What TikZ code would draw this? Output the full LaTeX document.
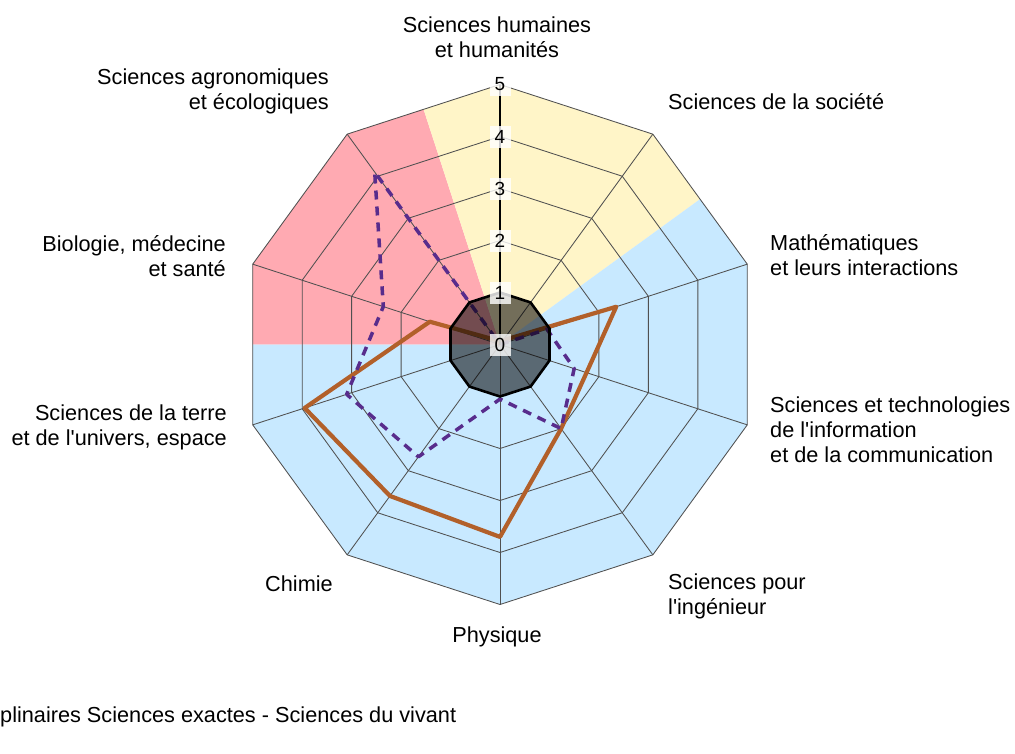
\documentclass[tikz,border=0pt]{standalone}
\usepackage{fontspec}
\setmainfont{Liberation Sans}[Ligatures=TeXOff]
\definecolor{pinkbg}{RGB}{255,170,178}
\definecolor{yellowbg}{RGB}{255,245,200}
\definecolor{bluebg}{RGB}{200,233,255}
\definecolor{gridgray}{RGB}{80,80,80}
\definecolor{brownser}{RGB}{178,96,42}
\definecolor{purpleser}{RGB}{88,44,140}
\begin{document}
\begin{tikzpicture}[x=1pt,y=-1pt,
  lab/.style={inner sep=0pt, font=\fontsize{21.7}{25}\selectfont},
  gridline/.style={draw=gridgray, line width=0.85pt},
  ticklab/.style={fill=white, fill opacity=0.8, text opacity=1, inner sep=0pt,
    minimum width=21pt, minimum height=22pt, font=\fontsize{19}{19}\selectfont},
  brownline/.style={draw=brownser, line width=4.2pt, line join=round},
  purpleline/.style={draw=purpleser, line width=3.5pt, dash pattern=on 9pt off 7pt, line join=round},
  core/.style={fill=black, fill opacity=0.55, draw=black, draw opacity=1, line width=2.6pt}
]
\useasboundingbox (0,0) rectangle (1015,753);
\fill[white] (0,0) rectangle (1015,753);

\begin{scope}[shift={(500,344.5)}, yscale=-1]
  % background sectors clipped to outer decagon
  \begin{scope}
    \clip (90:260) \foreach \i in {1,...,9} { -- ({90-36*\i}:260) } -- cycle;
    \fill[pinkbg] (0,0) -- (108:320) arc[start angle=108, end angle=180, radius=320] -- cycle;
    \fill[yellowbg] (0,0) -- (36:320) arc[start angle=36, end angle=108, radius=320] -- cycle;
    \fill[bluebg] (0,0) -- (180:320) arc[start angle=180, end angle=396, radius=320] -- cycle;
  \end{scope}
  % grid rings
  \foreach \r in {52,104,156,208,260} {
    \draw[gridline] (90:\r) \foreach \i in {1,...,9} { -- ({90-36*\i}:\r) } -- cycle;
  }
  % spokes
  \foreach \i in {1,...,9} {
    \draw[gridline] (0,0) -- ({90-36*\i}:260);
  }
  % series 1 (solid brown)
  \draw[brownline] (90:0) -- (54:5.2) -- (18:122.2) -- (-18:91) -- (-54:104)
    -- (-90:192.4) -- (-126:187.2) -- (-162:205.4) -- (162:73.8) -- (126:5.2) -- cycle;
  % series 2 (dashed purple)
  \draw[purpleline] (90:0) -- (54:0) -- (18:49.4) -- (-18:78) -- (-54:104)
    -- (-90:54.6) -- (-126:138.8) -- (-162:161.2) -- (162:122.7) -- (126:213.2) -- cycle;
  % inner core
  \draw[core] (90:52) \foreach \i in {1,...,9} { -- ({90-36*\i}:52) } -- cycle;
  % value axis
  \coordinate (ax0) at (0,0);
  \coordinate (ax5) at (90:260);
  \draw[black, line width=1.6pt] (ax0) -- (ax5);
  \foreach \v in {0,...,5} {
    \node[ticklab] (tick\v) at (90:{52*\v}) {\v};
  }
\end{scope}

% axis labels
\node[lab, align=center] (lHum) at (497,37.5) {Sciences humaines\\et humanités};
\node[lab, anchor=west] (lSoc) at (668,102) {Sciences de la société};
\node[lab, anchor=west, align=left] (lMath) at (770,255.5) {Mathématiques\\et leurs interactions};
\node[lab, anchor=west, align=left] (lStic) at (770,430) {Sciences et technologies\\de l'information\\et de la communication};
\node[lab, anchor=west, align=left] (lSpi) at (668,596) {Sciences pour\\l'ingénieur};
\node[lab] (lPhys) at (497,637) {Physique};
\node[lab] (lChim) at (299,584) {Chimie};
\node[lab, anchor=east, align=right] (lTerre) at (227,427.5) {Sciences de la terre\\et de l'univers, espace};
\node[lab, anchor=east, align=right] (lBio) at (226,256) {Biologie, médecine\\et santé};
\node[lab, anchor=east, align=right] (lAgro) at (329,91.5) {Sciences agronomiques\\et écologiques};
\node[lab, anchor=west] (lTitle) at (0,717) {plinaires Sciences exactes - Sciences du vivant};
\end{tikzpicture}
\end{document}
